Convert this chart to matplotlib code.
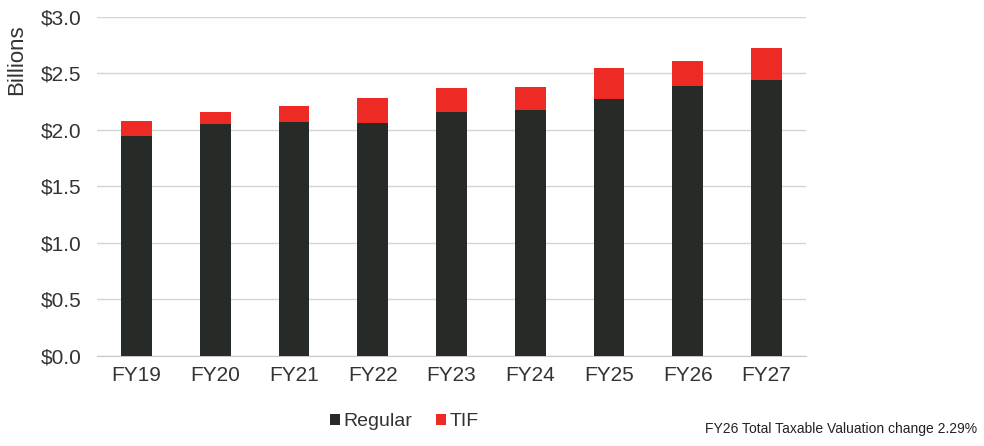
import matplotlib
matplotlib.use("Agg")
import matplotlib.pyplot as plt
import numpy as np

plt.rcParams['font.family'] = ['Liberation Sans', 'DejaVu Sans']

years = ['FY19', 'FY20', 'FY21', 'FY22', 'FY23', 'FY24', 'FY25', 'FY26', 'FY27']
regular = [1.95, 2.05, 2.07, 2.065, 2.16, 2.18, 2.27, 2.39, 2.44]
tif = [0.13, 0.11, 0.14, 0.215, 0.21, 0.20, 0.28, 0.22, 0.29]
yticks = [0.0, 0.5, 1.0, 1.5, 2.0, 2.5, 3.0]

fig = plt.figure(figsize=(9.84, 4.46), dpi=100)
ax = fig.add_axes([0.0986, 0.2018, 0.7204, 0.7601])

x = np.arange(len(years))
ax.bar(x, regular, width=0.39, color='#272b28', label='Regular', zorder=3)
ax.bar(x, tif, width=0.39, bottom=regular, color='#ee2a24', label='TIF', zorder=3)

ax.set_xlim(-0.5, len(years) - 0.5)
ax.set_ylim(0, 3.0)
ax.set_yticks(yticks)
ax.set_yticklabels(['$%.1f' % v for v in yticks], fontsize=15, color='#333333')
ax.set_xticks(x)
ax.set_xticklabels(years, fontsize=15, color='#333333')
ax.tick_params(length=0)
ax.tick_params(axis='x', pad=7)
ax.tick_params(axis='y', pad=11)
ax.yaxis.grid(True, color='#d4d4d4', linewidth=1, zorder=0)
for s in ['top', 'right', 'left']:
    ax.spines[s].set_visible(False)
ax.spines['bottom'].set_color('#c8c8c8')
ax.set_ylabel('Billions', fontsize=16, color='#333333')
ax.yaxis.set_label_coords(-0.098, 0.873)

fig.legend(loc='center', bbox_to_anchor=(0.411, 0.054), ncol=2, frameon=False,
           fontsize=14, handlelength=0.5, handleheight=0.5, handletextpad=0.2,
           columnspacing=1.2, labelcolor='#333333')

fig.text(0.993, 0.022, 'FY26 Total Taxable Valuation change 2.29%', ha='right', va='bottom',
         fontsize=10, color='#222222')

fig.savefig('out.png', dpi=100)
